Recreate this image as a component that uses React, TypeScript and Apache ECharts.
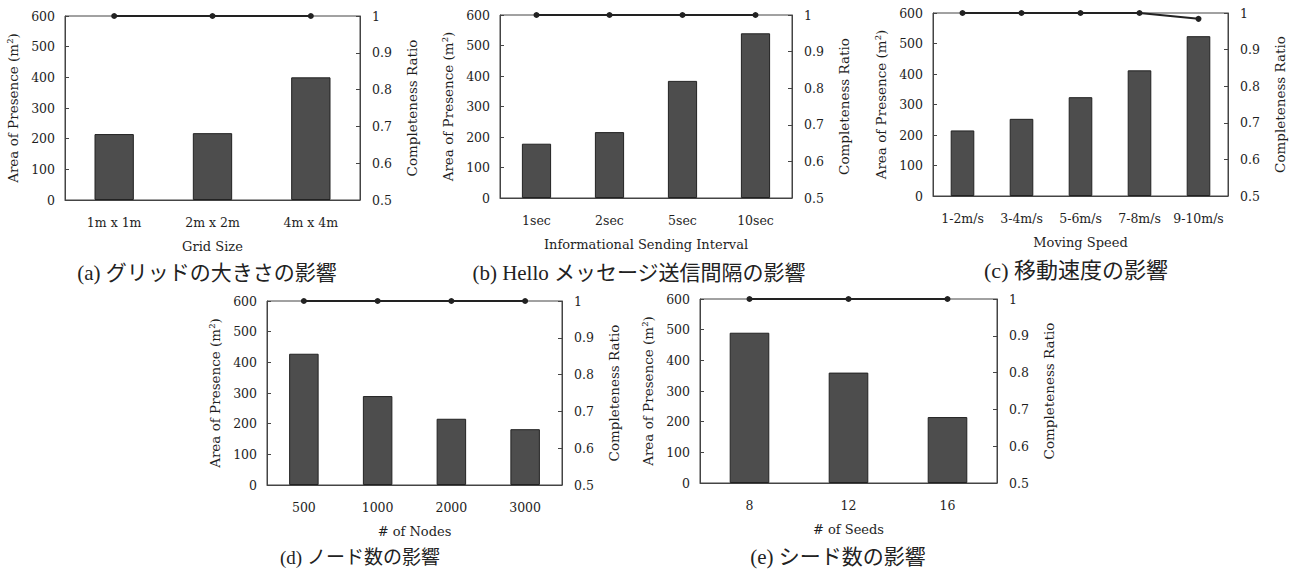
import React, { useEffect, useRef } from "react";
import * as echarts from "echarts";

// ---- data ----
const gridSizes = ["1m x 1m", "2m x 2m", "4m x 4m"];
const gridArea = [215, 218, 400];
const gridRatio = [1, 1, 1];

const intervals = ["1sec", "2sec", "5sec", "10sec"];
const intervalArea = [178, 216, 384, 540];
const intervalRatio = [1, 1, 1, 1];

const speeds = ["1-2m/s", "3-4m/s", "5-6m/s", "7-8m/s", "9-10m/s"];
const speedArea = [215, 253, 324, 412, 524];
const speedRatio = [1, 1, 1, 1, 0.984];

const nodes = ["500", "1000", "2000", "3000"];
const nodeArea = [428, 290, 216, 182];
const nodeRatio = [1, 1, 1, 1];

const seeds = ["8", "12", "16"];
const seedArea = [490, 360, 215];
const seedRatio = [1, 1, 1];

const areaTicks = { min: 0, max: 600, interval: 100 };
const ratioTicks = { min: 0.5, max: 1, interval: 0.1 };

const captions = [
  "(a) グリッドの大きさの影響",
  "(b) Hello メッセージ送信間隔の影響",
  "(c) 移動速度の影響",
  "(d) ノード数の影響",
  "(e) シード数の影響",
];
const xNames = [
  "Grid Size",
  "Informational Sending Interval",
  "Moving Speed",
  "# of Nodes",
  "# of Seeds",
];

const panels = [
  { cats: gridSizes, area: gridArea, ratio: gridRatio },
  { cats: intervals, area: intervalArea, ratio: intervalRatio },
  { cats: speeds, area: speedArea, ratio: speedRatio },
  { cats: nodes, area: nodeArea, ratio: nodeRatio },
  { cats: seeds, area: seedArea, ratio: seedRatio },
];

// layout (px)
const grids = [
  { left: 65, top: 16, width: 295, height: 184 },
  { left: 500, top: 15, width: 292, height: 183 },
  { left: 933, top: 13, width: 295, height: 183 },
  { left: 267, top: 301, width: 295, height: 184 },
  { left: 700, top: 299, width: 297, height: 184 },
];
const captionPos = [
  { x: 207, y: 273, size: 21 },
  { x: 639, y: 273, size: 21 },
  { x: 1076, y: 270, size: 22 },
  { x: 360, y: 557, size: 19 },
  { x: 838, y: 557, size: 21 },
];

const SERIF = "DejaVu Serif, Liberation Serif, serif";
const TXT = "#1e1e1e";
const LINE = "#444";

export default function App() {
  const ref = useRef<HTMLDivElement>(null);
  useEffect(() => {
    document.body.style.margin = "0";
    const chart = echarts.init(ref.current!, null, { renderer: "svg" });
    const xAxis: any[] = [];
    const yAxis: any[] = [];
    const series: any[] = [];
    panels.forEach((p, i) => {
      xAxis.push({
        type: "category",
        gridIndex: i,
        data: p.cats,
        name: xNames[i],
        nameLocation: "middle",
        nameGap: 40,
        nameTextStyle: { fontFamily: SERIF, fontSize: 13, color: TXT },
        axisLine: { lineStyle: { color: LINE, width: 1 } },
        axisTick: { inside: true, length: 4, lineStyle: { color: LINE } },
        axisLabel: { fontFamily: SERIF, fontSize: 12.5, color: TXT, margin: 16, interval: 0 },
        splitLine: { show: false },
      });
      yAxis.push({
        type: "value",
        gridIndex: i,
        position: "left",
        ...areaTicks,
        name: "Area of Presence (m²)",
        nameLocation: "middle",
        nameRotate: 90,
        nameGap: 45,
        nameTextStyle: { fontFamily: SERIF, fontSize: 13.5, color: TXT },
        axisLine: { show: true, lineStyle: { color: LINE, width: 1 } },
        axisTick: { show: true, inside: true, length: 4, lineStyle: { color: LINE } },
        axisLabel: { fontFamily: SERIF, fontSize: 12.5, color: TXT, margin: 10 },
        splitLine: { show: false },
      });
      yAxis.push({
        type: "value",
        gridIndex: i,
        position: "right",
        ...ratioTicks,
        name: "Completeness Ratio",
        nameLocation: "middle",
        nameRotate: 90,
        nameGap: 45,
        nameTextStyle: { fontFamily: SERIF, fontSize: 13.5, color: TXT },
        axisLine: { show: true, lineStyle: { color: LINE, width: 1 } },
        axisTick: { show: true, inside: true, length: 4, lineStyle: { color: LINE } },
        axisLabel: {
          fontFamily: SERIF,
          fontSize: 12.5,
          color: TXT,
          margin: 12,
          formatter: (v: number) => (Math.abs(v - 1) < 1e-9 ? "1" : v.toFixed(1)),
        },
        splitLine: { show: false },
      });
      series.push({
        type: "bar",
        xAxisIndex: i,
        yAxisIndex: 2 * i,
        data: p.area,
        barWidth: "40%",
        itemStyle: { color: "#4d4d4d", borderColor: "#222", borderWidth: 1 },
      });
      series.push({
        type: "line",
        xAxisIndex: i,
        yAxisIndex: 2 * i + 1,
        data: p.ratio,
        symbol: "circle",
        symbolSize: 6,
        clip: false,
        itemStyle: { color: "#222" },
        lineStyle: { color: "#222", width: 2 },
      });
    });

    chart.setOption({
      animation: false,
      backgroundColor: "#ffffff",
      grid: grids.map((g) => ({
        ...g,
        show: true,
        borderColor: LINE,
        borderWidth: 1,
        backgroundColor: "transparent",
      })),
      xAxis,
      yAxis,
      series,
      graphic: captions.map((c, i) => ({
        type: "text",
        x: captionPos[i].x,
        y: captionPos[i].y,
        style: {
          text: c,
          fontFamily: "Liberation Serif, Noto Sans CJK JP, serif",
          fontSize: captionPos[i].size,
          fill: "#222",
          align: "center",
          verticalAlign: "middle",
        },
      })),
    });
    return () => chart.dispose();
  }, []);
  return <div ref={ref} style={{ width: 1291, height: 571 }} />;
}
